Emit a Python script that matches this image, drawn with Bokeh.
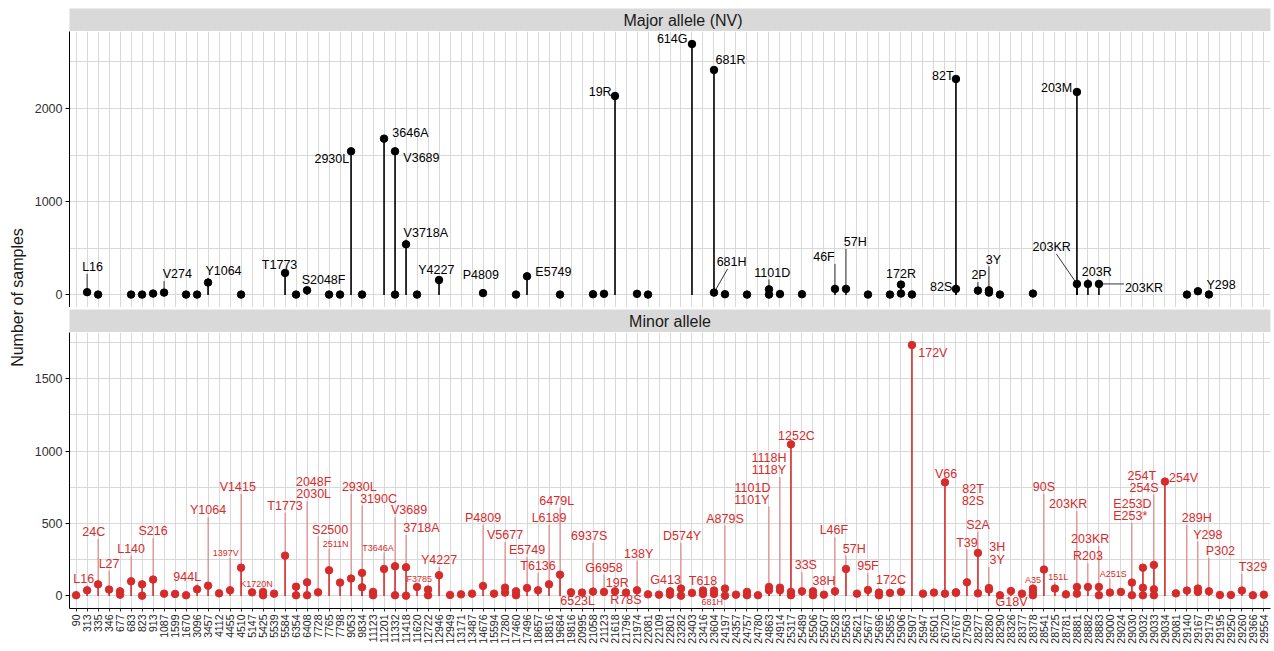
import math

from bokeh.core.properties import value
from bokeh.embed import file_html
from bokeh.layouts import column, row
from bokeh.models import ColumnDataSource, FixedTicker, Grid, Range1d
from bokeh.plotting import figure
from bokeh.resources import INLINE

# ---------------------------------------------------------------- data
# genome positions shown on the shared x axis
positions = [
    90, 313, 335, 346, 677, 683, 823, 913, 1087, 1599,
    1670, 3096, 3457, 4112, 4455, 4510, 5147, 5425, 5539, 5584,
    6354, 6408, 7728, 7765, 7798, 9053, 9834, 11123, 11201, 11332,
    11418, 11620, 12722, 12946, 12949, 13171, 13487, 14676, 15594, 17280,
    17460, 17496, 18657, 18816, 19684, 19816, 20995, 21058, 21123, 21618,
    21796, 21974, 22081, 22109, 22801, 23282, 23403, 23416, 23604, 24197,
    24357, 24757, 24780, 24863, 24914, 25317, 25489, 25506, 25507, 25528,
    25563, 25621, 25677, 25696, 25855, 25906, 25907, 25947, 26501, 26720,
    26767, 27509, 28277, 28280, 28290, 28326, 28377, 28378, 28541, 28725,
    28781, 28881, 28882, 28883, 29000, 29024, 29030, 29032, 29033, 29034,
    29081, 29140, 29167, 29179, 29195, 29250, 29260, 29366, 29554,
]

# samples where the non-reference variant is the major allele
major_pos = [
    313, 335, 683, 823, 913, 1087, 1670, 3096, 3457, 4510,
    5584, 6354, 6408, 7765, 7798, 9053, 9834, 11201, 11332, 11332,
    11418, 11620, 12946, 14676, 17460, 17496, 19684, 21058, 21123, 21618,
    21974, 22081, 23403, 23604, 23604, 24197, 24757, 24863, 24863, 24914,
    25489, 25528, 25563, 25677, 25855, 25906, 25906, 25907, 26767, 26767,
    28277, 28280, 28280, 28290, 28378, 28881, 28881, 28882, 28883, 29140,
    29167, 29179,
]
major_count = [
    30, 4, 4, 4, 15, 25, 4, 4, 133, 4,
    236, 4, 50, 4, 4, 1540, 4, 1676, 1540, 4,
    543, 4, 160, 20, 4, 200, 4, 8, 12, 2133,
    12, 4, 2690, 2412, 25, 8, 4, 60, 4, 10,
    8, 65, 65, 4, 4, 111, 15, 5, 2315, 65,
    47, 50, 25, 4, 15, 2176, 118, 118, 118, 4,
    40, 5,
]
major_label = [
    "L16", "", "", "", "", "V274", "", "", "Y1064", "",
    "T1773", "", "S2048F", "", "", "2930L", "", "3646A", "V3689", "",
    "V3718A", "", "Y4227", "P4809", "", "E5749", "", "", "", "19R",
    "", "", "614G", "681R", "681H", "", "", "1101D", "", "",
    "", "46F", "57H", "", "", "172R", "", "", "82T", "82S",
    "2P", "3Y", "", "", "", "203M", "203KR", "203R", "203KR", "",
    "Y298", "",
]

# samples carrying the variant as a minor allele
minor_pos = [
    90, 313, 335, 346, 677, 677, 683, 823, 823, 913,
    1087, 1599, 1670, 3096, 3457, 4112, 4455, 4510, 5147, 5425,
    5425, 5539, 5584, 6354, 6354, 6408, 6408, 7728, 7765, 7798,
    9053, 9834, 9834, 11123, 11123, 11201, 11332, 11332, 11418, 11418,
    11620, 12722, 12722, 12946, 12949, 13171, 13487, 14676, 15594, 17280,
    17280, 17460, 17460, 17496, 18657, 18816, 19684, 19816, 20995, 21058,
    21123, 21618, 21796, 21974, 22081, 22109, 22801, 22801, 23282, 23282,
    23403, 23416, 23416, 23604, 23604, 24197, 24197, 24357, 24757, 24757,
    24780, 24863, 24863, 24914, 24914, 25317, 25317, 25317, 25489, 25506,
    25506, 25507, 25528, 25563, 25621, 25677, 25696, 25696, 25855, 25906,
    25907, 25947, 26501, 26720, 26720, 26767, 26767, 27509, 28277, 28277,
    28280, 28280, 28290, 28326, 28377, 28378, 28378, 28378, 28541, 28725,
    28781, 28881, 28881, 28882, 28883, 28883, 29000, 29024, 29030, 29030,
    29032, 29032, 29032, 29033, 29033, 29033, 29034, 29081, 29140, 29167,
    29167, 29179, 29195, 29250, 29260, 29366, 29554,
]
minor_count = [
    5, 39, 80, 44, 32, 9, 101, 80, 2, 113,
    16, 14, 5, 46, 71, 18, 39, 195, 25, 28,
    5, 16, 278, 64, 5, 94, 5, 25, 177, 92,
    120, 159, 60, 28, 5, 186, 205, 5, 198, 2,
    62, 44, 5, 143, 7, 11, 16, 69, 16, 57,
    23, 32, 5, 55, 39, 80, 147, 25, 23, 30,
    28, 32, 23, 39, 11, 9, 32, 9, 51, 2,
    21, 37, 14, 37, 14, 51, 2, 9, 28, 5,
    5, 62, 39, 57, 39, 1046, 28, 5, 32, 32,
    5, 9, 32, 186, 16, 41, 23, 5, 21, 28,
    1731, 16, 23, 784, 16, 25, 22, 94, 297, 18,
    55, 44, 5, 34, 16, 51, 28, 5, 182, 51,
    11, 62, 16, 62, 62, 5, 23, 28, 92, 5,
    195, 57, 5, 214, 46, 5, 789, 18, 37, 51,
    28, 32, 7, 7, 37, 5, 9,
]
minor_label = [
    "", "L16", "24C", "L27", "", "", "L140", "", "", "S216",
    "", "", "", "944L", "Y1064", "", "1397V", "V1415", "", "K1720N",
    "", "", "T1773", "", "", "2030L", "2048F", "S2500", "2511N", "",
    "2930L", "3190C", "", "", "", "T3646A", "V3689", "", "3718A", "",
    "F3785", "", "", "Y4227", "", "", "", "P4809", "", "V5677",
    "", "", "", "E5749", "T6136", "L6189", "6479L", "6523L", "", "6937S",
    "G6958", "19R", "R78S", "138Y", "", "", "G413", "", "D574Y", "",
    "", "T618", "", "", "681H", "A879S", "", "", "", "",
    "", "1101D", "1101Y", "1118H", "1118Y", "1252C", "", "", "33S", "38H",
    "", "", "L46F", "57H", "", "95F", "", "", "", "172C",
    "172V", "", "", "V66", "", "82T", "82S", "T39", "S2A", "",
    "3H", "3Y", "G18V", "", "", "A35", "", "", "90S", "151L",
    "", "203KR", "", "R203", "203KR", "", "A251S", "", "E253*", "",
    "E253D", "", "", "254S", "254T", "", "254V", "", "289H", "Y298",
    "", "P302", "", "", "T329", "", "",
]

major_yticks = [0, 1000, 2000]
major_yminor = [500, 1500, 2500]
minor_yticks = [0, 500, 1000, 1500]
minor_yminor = [250, 750, 1250, 1750]

panel_titles = ["Major allele (NV)", "Minor allele"]
y_title = "Number of samples"

# ------------------------------------------------------- label layout
# (shift along x in category steps, label height in samples, leader line, small font)
major_place = {
    (313, "L16"): (0.5, 300, True, False),
    (1087, "V274"): (1.2, 222, True, False),
    (3457, "Y1064"): (1.4, 257, True, False),
    (5584, "T1773"): (-0.5, 326, True, False),
    (6408, "S2048F"): (1.5, 165, True, False),
    (9053, "2930L"): (-1.75, 1462, False, False),
    (11201, "3646A"): (2.4, 1740, False, False),
    (11332, "V3689"): (2.4, 1472, False, False),
    (11418, "V3718A"): (1.8, 669, True, False),
    (12946, "Y4227"): (-0.25, 265, True, False),
    (14676, "P4809"): (-0.2, 211, False, False),
    (17496, "E5749"): (2.4, 247, False, False),
    (21618, "19R"): (-1.35, 2176, False, False),
    (23403, "614G"): (-1.8, 2748, False, False),
    (23604, "681R"): (1.5, 2516, False, False),
    (23604, "681H"): (1.6, 354, True, False),
    (24863, "1101D"): (0.3, 240, True, False),
    (25528, "46F"): (-1.0, 407, True, False),
    (25563, "57H"): (0.85, 568, True, False),
    (25906, "172R"): (0.0, 222, True, False),
    (26767, "82T"): (-1.2, 2344, False, False),
    (26767, "82S"): (-1.35, 86, False, False),
    (28277, "2P"): (0.1, 211, True, False),
    (28280, "3Y"): (0.4, 380, True, False),
    (28881, "203M"): (-1.85, 2223, False, False),
    (28881, "203KR"): (-2.3, 514, True, False),
    (28882, "203R"): (0.8, 247, True, False),
    (28883, "203KR"): (4.1, 79, True, False),
    (29167, "Y298"): (2.1, 104, False, False),
}
minor_place = {
    (313, "L16"): (-0.3, 120, True, False),
    (335, "24C"): (-0.4, 441, True, False),
    (346, "L27"): (0.0, 223, True, False),
    (683, "L140"): (0.0, 327, True, False),
    (913, "S216"): (0.0, 446, True, False),
    (3096, "944L"): (-0.9, 131, True, False),
    (3457, "Y1064"): (0.0, 591, True, False),
    (4455, "1397V"): (-0.4, 299, True, True),
    (4510, "V1415"): (-0.3, 752, True, False),
    (5425, "K1720N"): (-0.6, 81, True, True),
    (5584, "T1773"): (0.0, 621, True, False),
    (6408, "2030L"): (0.6, 701, True, False),
    (6408, "2048F"): (0.6, 786, False, False),
    (7728, "S2500"): (1.1, 458, True, False),
    (7765, "2511N"): (0.6, 361, True, True),
    (9053, "2930L"): (0.75, 752, True, False),
    (9834, "3190C"): (1.5, 672, True, False),
    (11201, "T3646A"): (-0.55, 334, True, True),
    (11332, "V3689"): (1.27, 591, True, False),
    (11418, "3718A"): (1.4, 469, True, False),
    (11620, "F3785"): (0.2, 120, True, True),
    (12946, "Y4227"): (0.0, 246, True, False),
    (14676, "P4809"): (0.0, 538, True, False),
    (17280, "V5677"): (0.0, 419, True, False),
    (17496, "E5749"): (0.0, 315, True, False),
    (18657, "T6136"): (0.0, 207, True, False),
    (18816, "L6189"): (0.0, 538, True, False),
    (19684, "6479L"): (-0.3, 655, True, False),
    (19816, "6523L"): (0.6, -37, False, False),
    (21058, "6937S"): (-0.35, 414, True, False),
    (21123, "G6958"): (0.0, 196, True, False),
    (21618, "19R"): (0.2, 92, True, False),
    (21796, "R78S"): (0.0, -30, False, False),
    (21974, "138Y"): (0.15, 292, True, False),
    (22801, "G413"): (-0.4, 108, True, False),
    (23282, "D574Y"): (0.1, 414, True, False),
    (23416, "T618"): (0.0, 103, True, False),
    (23604, "681H"): (-0.15, -41, False, True),
    (24197, "A879S"): (0.0, 534, True, False),
    (24863, "1101D"): (-1.5, 748, False, False),
    (24863, "1101Y"): (-1.56, 665, True, False),
    (24914, "1118H"): (-1.0, 952, False, False),
    (24914, "1118Y"): (-1.0, 867, True, False),
    (25317, "1252C"): (0.5, 1101, True, False),
    (25489, "33S"): (0.35, 212, True, False),
    (25506, "38H"): (1.0, 103, False, False),
    (25528, "L46F"): (-0.1, 453, True, False),
    (25563, "57H"): (0.75, 327, True, False),
    (25677, "95F"): (0.0, 205, True, False),
    (25906, "172C"): (-0.9, 108, False, False),
    (25907, "172V"): (1.9, 1676, False, False),
    (26720, "V66"): (0.1, 844, True, False),
    (26767, "82T"): (1.55, 741, False, False),
    (26767, "82S"): (1.55, 655, False, False),
    (27509, "T39"): (0.0, 368, True, False),
    (28277, "S2A"): (0.0, 492, True, False),
    (28280, "3H"): (0.75, 338, False, False),
    (28280, "3Y"): (0.75, 246, True, False),
    (28290, "G18V"): (1.05, -41, False, False),
    (28378, "A35"): (0.0, 108, True, True),
    (28541, "90S"): (0.0, 752, True, False),
    (28725, "151L"): (0.3, 131, True, True),
    (28881, "203KR"): (-0.8, 632, True, False),
    (28882, "R203"): (0.0, 274, True, False),
    (28883, "203KR"): (-0.8, 391, True, False),
    (29000, "A251S"): (0.3, 154, True, True),
    (29030, "E253*"): (-0.15, 552, True, False),
    (29032, "E253D"): (-0.95, 632, False, False),
    (29033, "254S"): (-0.9, 748, True, False),
    (29033, "254T"): (-1.1, 828, False, False),
    (29034, "254V"): (1.7, 814, False, False),
    (29140, "289H"): (0.9, 538, True, False),
    (29167, "Y298"): (0.9, 423, True, False),
    (29179, "P302"): (1.05, 310, True, False),
    (29260, "T329"): (1.0, 200, True, False),
}

# ---------------------------------------------------------------- style
FONT = "Liberation Sans"
BLACK = "#000000"
RED = "#d62b2b"
GRID = "#d9d9d9"
STRIP = "#d9d9d9"
TICK_TEXT = "#333333"
LABEL_SIZE = 12.5
SMALL_SIZE = 9

W_TOTAL, H_TOTAL = 1274, 651
LABEL_W = 30
FIG_W = W_TOTAL - LABEL_W
LEFT, RIGHT = 39, 4
FRAME_W = FIG_W - LEFT - RIGHT
FRAME_H = 276

n = len(positions)
index_of = {p: i for i, p in enumerate(positions)}
x_range = Range1d(-0.6, n - 1 + 0.6)
px_per_step = FRAME_W / (x_range.end - x_range.start)


def text_px(s, size):
    w = 0.0
    for ch in s:
        if ch.isdigit():
            w += 0.556
        elif ch.isupper():
            w += 0.69
        elif ch.islower():
            w += 0.5
        else:
            w += 0.39
    return w * size


def strip(title, height, top, shift_px=0.0):
    s = figure(width=FIG_W, height=height, x_range=x_range, y_range=Range1d(0, 1),
               output_backend="svg", toolbar_location=None,
               x_axis_type=None, y_axis_type=None,
               min_border_left=LEFT, min_border_right=RIGHT,
               min_border_top=top, min_border_bottom=0,
               outline_line_color=None, background_fill_color=STRIP,
               border_fill_color="white")
    mid = (x_range.start + x_range.end) / 2 + shift_px / px_per_step
    s.text(x=[mid], y=[0.5], text=[title],
           text_font=value(FONT), text_font_size="16px", text_color="#1a1a1a",
           text_align="center", text_baseline="middle")
    return s


def leader_end(px, py, cx, cy, hw, hh):
    """Point where a leader from (px, py) meets the label box, in pixels
    relative to the label centre; None when the point sits inside the box."""
    dx, dy = px - cx, py - cy
    if abs(dx) <= hw and abs(dy) <= hh:
        return None
    if abs(dx) <= hw:
        return dx, math.copysign(hh, dy)
    if abs(dy) <= hh:
        return math.copysign(hw, dx), dy
    s = min(hw / abs(dx), hh / abs(dy))
    return dx * s, dy * s


def panel(pos, counts, labels, place, ink, lead_alpha, yticks, yminor,
          height, bottom, with_xaxis):
    xs = [index_of[v] for v in pos]
    hi = max(counts)
    y_range = Range1d(-0.05 * hi, 1.05 * hi)
    px_per_count = FRAME_H / (y_range.end - y_range.start)

    p = figure(width=FIG_W, height=height, x_range=x_range, y_range=y_range,
               output_backend="svg", toolbar_location=None,
               x_axis_type="linear" if with_xaxis else None,
               min_border_left=LEFT, min_border_right=RIGHT,
               min_border_top=0, min_border_bottom=bottom,
               outline_line_color=None, border_fill_color="white")

    yt = FixedTicker(ticks=yticks, minor_ticks=yminor)
    yax = p.yaxis[0]
    yax.ticker = yt
    yax.axis_line_color = "black"
    yax.major_tick_line_color = "black"
    yax.major_tick_in = 0
    yax.major_tick_out = 4
    yax.minor_tick_line_color = None
    yax.major_label_standoff = 3
    yax.major_label_text_font = FONT
    yax.major_label_text_font_size = "12.5px"
    yax.major_label_text_color = TICK_TEXT
    yg = p.ygrid[0]
    yg.ticker = yt
    yg.grid_line_color = GRID
    yg.minor_grid_line_color = GRID

    xt = FixedTicker(ticks=list(range(n)))
    if with_xaxis:
        xax = p.xaxis[0]
        xax.ticker = xt
        xax.major_label_overrides = {i: str(v) for i, v in enumerate(positions)}
        xax.major_label_orientation = math.pi / 2
        xax.axis_line_color = "black"
        xax.major_tick_line_color = "#333333"
        xax.major_tick_in = 0
        xax.major_tick_out = 3
        xax.minor_tick_line_color = None
        xax.major_label_standoff = 3
        xax.major_label_text_font = FONT
        xax.major_label_text_font_size = "10.5px"
        xax.major_label_text_color = "#1a1a1a"
        xg = p.xgrid[0]
        xg.ticker = xt
        xg.grid_line_color = GRID
    else:
        p.add_layout(Grid(dimension=0, ticker=xt, grid_line_color=GRID))

    # stems
    p.segment(x0=xs, y0=[0] * len(xs), x1=xs, y1=counts,
              line_color=ink, line_width=1.6)

    # labels and the leader lines that tie them to their points
    lead = dict(x0=[], y0=[], x1=[], y1=[])
    txt = {False: dict(x=[], y=[], text=[]), True: dict(x=[], y=[], text=[])}
    for v, x, c, lab in zip(pos, xs, counts, labels):
        if not lab:
            continue
        dx, ly, has_leader, small = place[(v, lab)]
        size = SMALL_SIZE if small else LABEL_SIZE
        cx = x + dx
        txt[small]["x"].append(cx)
        txt[small]["y"].append(ly)
        txt[small]["text"].append(lab)
        if not has_leader:
            continue
        hw = text_px(lab, size) / 2 + 1.0
        hh = size * 0.55
        end = leader_end((x - cx) * px_per_step, (c - ly) * px_per_count,
                         0.0, 0.0, hw, hh)
        if end is None:
            continue
        ex = cx + end[0] / px_per_step
        ey = ly + end[1] / px_per_count
        if math.hypot((ex - x) * px_per_step, (ey - c) * px_per_count) > 3:
            lead["x0"].append(x)
            lead["y0"].append(c)
            lead["x1"].append(ex)
            lead["y1"].append(ey)

    p.segment(x0="x0", y0="y0", x1="x1", y1="y1", source=ColumnDataSource(lead),
              line_color=ink, line_alpha=lead_alpha, line_width=0.8)

    p.scatter(x=xs, y=counts, size=7.5, fill_color=ink, line_color=ink)

    for small, d in txt.items():
        p.text(x="x", y="y", text="text", source=ColumnDataSource(d),
               text_font=value(FONT),
               text_font_size=value(f"{SMALL_SIZE if small else LABEL_SIZE}px"),
               text_color=ink, text_align="center", text_baseline="middle")
    return p


strip_top = strip(panel_titles[0], 31, 8, shift_px=13)
major_fig = panel(major_pos, major_count, major_label, major_place, BLACK, 1.0,
                  major_yticks, major_yminor, FRAME_H, 0, False)
strip_bottom = strip(panel_titles[1], 25, 2)
minor_fig = panel(minor_pos, minor_count, minor_label, minor_place, RED, 0.75,
                  minor_yticks, minor_yminor, FRAME_H + 43, 43, True)

# shared y-axis title
ylab = figure(width=LABEL_W, height=H_TOTAL, x_range=Range1d(0, LABEL_W),
              y_range=Range1d(0, H_TOTAL), output_backend="svg",
              toolbar_location=None, x_axis_type=None, y_axis_type=None,
              min_border=0, outline_line_color=None)
ylab.text(x=[17], y=[H_TOTAL - 297], text=[y_title], angle=math.pi / 2,
          text_font=value(FONT), text_font_size="16px", text_color="#1a1a1a",
          text_align="center", text_baseline="middle")

layout = row(ylab, column(strip_top, major_fig, strip_bottom, minor_fig))

open("out.html", "w").write(file_html(layout, INLINE))
